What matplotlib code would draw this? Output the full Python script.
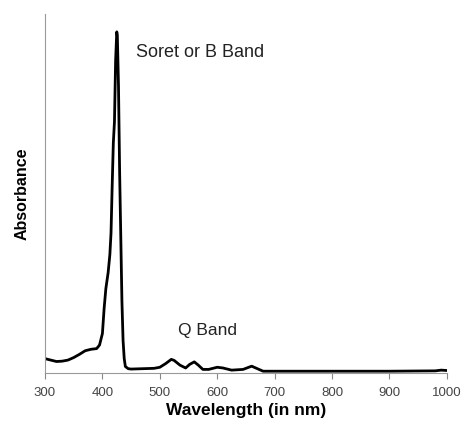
import numpy as np
import matplotlib.pyplot as plt

plt.rcParams['font.family'] = ['Liberation Sans', 'DejaVu Sans']

# absorbance spectrum (arbitrary units)
wavelength = [300, 310, 320, 330, 340, 350, 360, 370, 380, 390, 395, 400, 403, 406,
              410, 413, 415, 417, 419, 421, 423, 425, 426, 428, 430, 432, 434, 436,
              438, 440, 445, 450, 470, 490, 500, 510, 520, 525, 535, 545, 552, 560,
              567, 575, 585, 600, 610, 625, 645, 660, 670, 680, 700, 800, 900, 980,
              990, 1000]
absorbance = [0.040, 0.036, 0.032, 0.033, 0.036, 0.043, 0.052, 0.062, 0.066, 0.068, 0.078, 0.110,
              0.180, 0.235, 0.280, 0.330, 0.390, 0.520, 0.640, 0.700, 0.870, 0.950, 0.940,
              0.800, 0.560, 0.380, 0.200, 0.090, 0.040, 0.018, 0.012, 0.011, 0.012, 0.013,
              0.016, 0.026, 0.038, 0.035, 0.022, 0.014, 0.024, 0.031, 0.022, 0.010, 0.010,
              0.016, 0.014, 0.008, 0.010, 0.019, 0.012, 0.005, 0.005, 0.005, 0.005, 0.006,
              0.008, 0.007]

fig = plt.figure(figsize=(4.64, 4.21), dpi=100)
ax = fig.add_axes([0.097, 0.114, 0.866, 0.853])

ax.plot(wavelength, absorbance, color='black', linewidth=2)

ax.set_xlim(300, 1000)
ax.set_ylim(0, 1.0)
ax.set_xticks(range(300, 1001, 100))
ax.set_yticks([])
ax.tick_params(axis='x', colors='#888888', labelcolor='#444444', labelsize=9.5,
               length=4, pad=6)
for side in ['top', 'right']:
    ax.spines[side].set_visible(False)
for side in ['left', 'bottom']:
    ax.spines[side].set_color('#999999')

ax.set_xlabel('Wavelength (in nm)', fontsize=12.5, fontweight='bold', labelpad=3)
ax.set_ylabel('Absorbance', fontsize=11.5, fontweight='bold', labelpad=11)

ax.text(458, 0.88, 'Soret or B Band', fontsize=13, color='#222222', va='baseline')
ax.text(531, 0.106, 'Q Band', fontsize=12.5, color='#222222', va='baseline')

fig.savefig('out.png', dpi=100)
